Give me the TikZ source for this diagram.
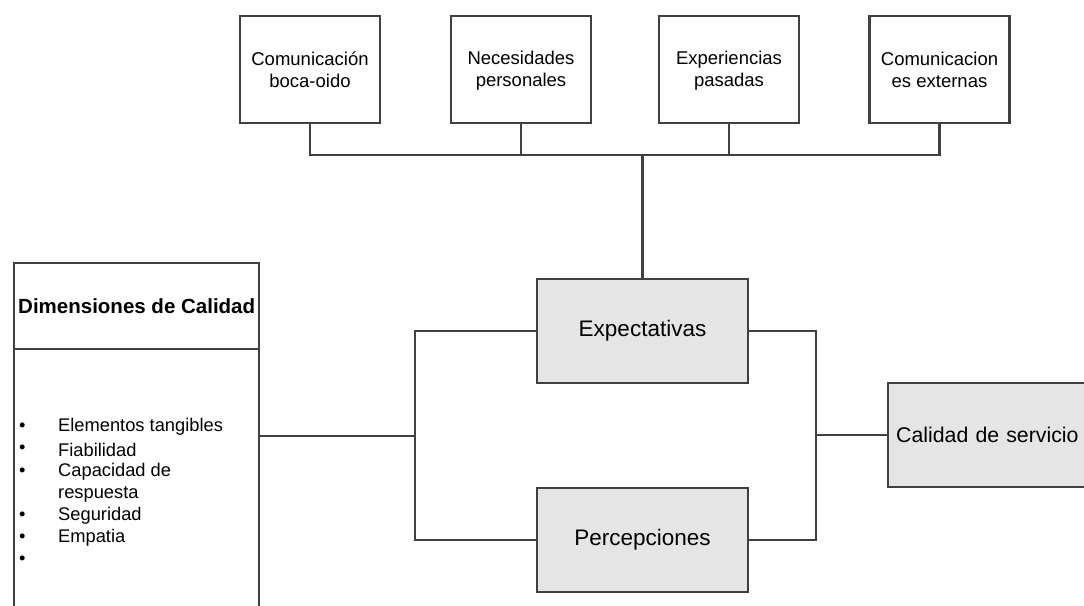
\documentclass[tikz,border=0pt]{standalone}
\usepackage{fontspec}
\setmainfont{Liberation Sans}
\newcommand{\tstrut}{\rule[-3pt]{0pt}{19pt}}
\begin{document}
\begin{tikzpicture}[x=1pt,y=-1pt,
  line/.style={draw=black!75,line width=2.4pt},
  topbox/.style={line,fill=white,minimum width=140pt,minimum height=107pt,inner sep=0pt,align=center,font=\fontsize{18.5}{22}\selectfont},
  graybox/.style={line,fill=black!10,minimum width=211pt,minimum height=104pt,inner sep=0pt,align=center,font=\fontsize{22.5}{26}\selectfont},
  item/.style={anchor=west,inner sep=0pt,font=\fontsize{18.3}{22}\selectfont},
  conn/.style={line,line width=2.2pt}]
\useasboundingbox (0,0) rectangle (1084,605);
\fill[white] (0,0) rectangle (1084,605);
% top boxes
\node[topbox] (c1) at (310,69.5) {Comunicación\tstrut\\boca-oido\tstrut};
\node[topbox] (c2) at (521,69.5) {Necesidades\tstrut\\personales\tstrut};
\node[topbox] (c3) at (729,69.5) {Experiencias\tstrut\\pasadas\tstrut};
\node[topbox] (c4) at (939.5,69.5) {Comunicacion\tstrut\\es externas\tstrut};
% central boxes
\node[graybox] (exp) at (642.5,331) {Expectativas};
\node[graybox] (per) at (642.5,540) {Percepciones};
\node[line,fill=black!10,minimum width=213pt,minimum height=104pt,inner xsep=8pt,inner ysep=0pt,text width=197pt,align=left,anchor=west,font=\fontsize{21.3}{26}\selectfont] (cal) at (887,435) {Calidad de servicio};
% dimensions box
\node[line,fill=white,minimum width=245pt,minimum height=86pt,inner sep=0pt,anchor=north west,font=\bfseries\fontsize{20.5}{24}\selectfont] (dimh) at (13,262) {Dimensiones de Calidad};
\node[line,fill=white,minimum width=245pt,minimum height=300pt,inner sep=0pt,anchor=north west] (dimb) at (13,348) {};
% bullet items
\node[item] (b1) at (19,427) {•};
\node[item] (t1) at (58,427) {Elementos tangibles};
\node[item] (b2) at (19,449.5) {•};
\node[item] (t2) at (58,449.5) {Fiabilidad};
\node[item] (b3) at (19,472) {•};
\node[item] (t3) at (58,472) {Capacidad de};
\node[item] (t3b) at (58,494) {respuesta};
\node[item] (b4) at (19,516) {•};
\node[item] (t4) at (58,516) {Seguridad};
\node[item] (b5) at (19,538) {•};
\node[item] (t5) at (58,538) {Empatia};
\node[item] (b6) at (19,560) {•};
% connectors top
\coordinate (bus) at (exp.north |- 0,155);
\draw[conn] (c1.south) |- (bus);
\draw[conn] (c2.south) |- (bus);
\draw[conn] (c3.south) |- (bus);
\draw[conn] (c4.south) |- (bus);
\draw[conn] (bus) -- (exp.north);
% left bracket
\coordinate (lj) at (415,436);
\draw[conn] (exp.west) -| (lj) |- (per.west);
\draw[conn] (dimb.east |- lj) -- (lj);
% right bracket
\coordinate (rj) at (816,435);
\draw[conn] (exp.east) -| (rj) |- (per.east);
\draw[conn] (rj) -- (cal.west);
\end{tikzpicture}
\end{document}
